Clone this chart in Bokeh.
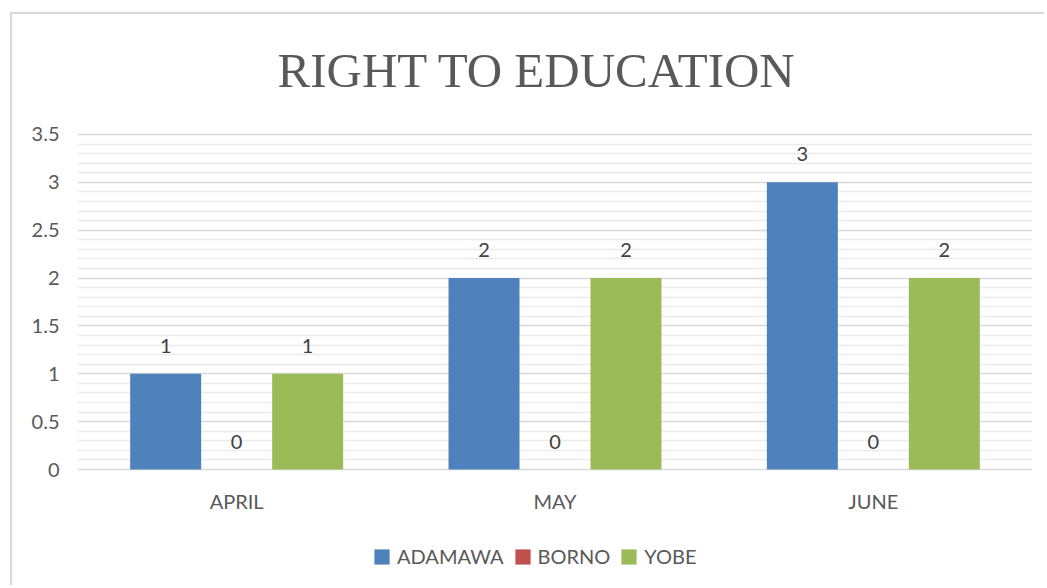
from bokeh.plotting import figure
from bokeh.models import ColumnDataSource, FactorRange, FixedTicker, LabelSet, Legend, LegendItem
from bokeh.core.properties import value
from bokeh.transform import dodge
from bokeh.embed import file_html
from bokeh.resources import INLINE

title_text = "RIGHT TO EDUCATION"
months = ["APRIL", "MAY", "JUNE"]
adamawa = [1, 2, 3]
borno = [0, 0, 0]
yobe = [1, 2, 2]
series_names = ["ADAMAWA", "BORNO", "YOBE"]
colors = ["#4f81bd", "#c0504d", "#9bbb59"]
y_ticks = [0, 0.5, 1, 1.5, 2, 2.5, 3, 3.5]
y_tick_labels = ["0", "0.5", "1", "1.5", "2", "2.5", "3", "3.5"]
y_minor = [round(i * 0.1, 1) for i in range(36) if i % 5 != 0]

TXT = "#595959"
FONT = "Lato"

source = ColumnDataSource(data=dict(month=months, zero=[0] * len(months),
                                    ADAMAWA=adamawa, BORNO=borno, YOBE=yobe))
title_source = ColumnDataSource(data=dict(x=[months[len(months) // 2]], y=[y_ticks[-1]],
                                          text=[title_text]))

# frame spans from just under the border to the bottom; value axis shown only for 0..3.5
p = figure(x_range=FactorRange(*months, range_padding=0), y_range=(-1.128, 4.649),
           width=1034, height=573, output_backend="svg", toolbar_location=None,
           x_axis_location=None,
           min_border_left=65, min_border_right=14, min_border_top=10, min_border_bottom=10)
p.styles = {"border-top": "2px solid #d9d9d9", "border-left": "2px solid #d9d9d9",
            "margin-left": "10px", "margin-top": "12px"}
p.outline_line_color = None
p.background_fill_color = "white"
p.border_fill_color = "white"

# chart title
p.add_layout(LabelSet(x="x", y="y", text="text", source=title_source,
                      x_offset=-18, y_offset=47, text_align="center", text_baseline="alphabetic",
                      text_font=value("Liberation Serif"), text_font_size="49px",
                      text_color=TXT))

# grid (only for the 0..3.5 region)
p.xgrid.grid_line_color = None
p.ygrid.grid_line_color = "#d9d9d9"
p.ygrid.grid_line_width = 1.5
p.ygrid.minor_grid_line_color = "#ececec"
p.ygrid.minor_grid_line_width = 1.5

bw = 0.223
offsets = [-bw, 0, bw]
items = []
for name, col, off in zip(series_names, colors, offsets):
    r = p.vbar(x=dodge("month", off, range=p.x_range), top=name, width=bw,
               source=source, fill_color=col, line_color=None)
    items.append(LegendItem(label=name, renderers=[r]))
    lbl = LabelSet(x=dodge("month", off, range=p.x_range), y=name, text=name, source=source,
                   text_align="center", text_baseline="middle", y_offset=28,
                   text_font=value(FONT), text_font_size="20px", text_color="#404040")
    p.add_layout(lbl)

# category labels (x axis)
xl = LabelSet(x="month", y="zero", text="month", source=source, text_align="center",
              text_baseline="middle", y_offset=-31, text_font=value(FONT),
              text_font_size="20px", text_color=TXT)
p.add_layout(xl)

# y axis
p.yaxis.ticker = FixedTicker(ticks=y_ticks, minor_ticks=y_minor)
p.yaxis.major_label_overrides = {t: s for t, s in zip(y_ticks, y_tick_labels)}
p.yaxis.axis_line_color = None
p.yaxis.major_tick_line_color = None
p.yaxis.minor_tick_line_color = None
p.yaxis.major_label_standoff = 12
p.yaxis.major_label_text_font = FONT
p.yaxis.major_label_text_font_size = "20px"
p.yaxis.major_label_text_color = TXT

legend = Legend(items=items, orientation="horizontal", location=(295, 9),
                glyph_width=19, glyph_height=19, label_standoff=6, spacing=9,
                label_text_font=FONT, label_text_font_size="20px", label_text_color=TXT,
                border_line_color=None, background_fill_alpha=0, margin=0, padding=0)
p.add_layout(legend, "center")

open("out.html", "w").write(file_html(p, INLINE))
